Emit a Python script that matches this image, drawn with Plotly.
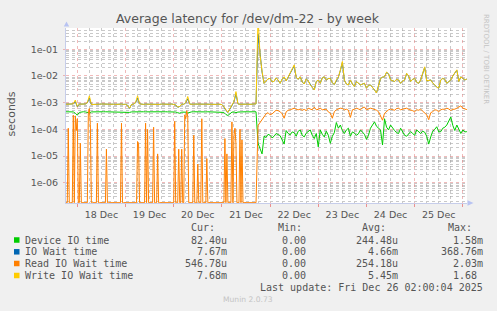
import numpy as np
import pandas as pd
import plotly.graph_objects as go

# ---------------- data (microseconds) ----------------
START = "2025-12-17 18:00"          # first hourly sample
# hourly samples i = 0..200 (Dec 17 18:00 .. Dec 26 02:00)
device_us = [
    455, 452, 448, 455, 450, 400, 340, 430, 452, 456,
    450, 430, 410, 450, 455, 458, 452, 455, 450, 456,
    455, 452, 458, 455, 450, 455, 452, 456, 455, 450,
    452, 448, 430, 450, 455, 450, 440, 452, 458, 455,
    452, 455, 450, 456, 455, 452, 460, 462, 458, 460,
    455, 452, 456, 455, 450, 445, 420, 400, 440, 452,
    440, 410, 440, 452, 455, 450, 456, 455, 452, 455,
    450, 455, 452, 456, 455, 450, 452, 455, 450, 430,
    360, 330, 380, 440, 450, 420, 445, 452, 455, 450,
    455, 452, 456, 455, 450, 455,
    30, 20, 12, 55, 50, 65, 60, 48, 55, 70,
    62, 58, 40, 28, 90, 70, 62, 80, 75, 55,
    85, 95, 60, 52, 72, 85, 95, 60, 45, 70,
    22, 95, 65, 52, 85, 60, 30, 55, 75, 180,
    110, 145, 90, 70, 95, 110, 55, 80, 72, 60,
    68, 95, 78, 65, 42, 60, 110, 150, 190, 130,
    115, 95, 26, 250, 120, 95, 145, 110, 90, 75,
    70, 110, 85, 60, 55, 65, 82, 70, 60, 95,
    80, 70, 85, 78, 55, 28, 52, 85, 100, 125,
    80, 82, 110, 120, 145, 200, 290, 140, 90, 145,
    100, 70, 95, 80, 82,
]
write_us = [
    870, 880, 860, 890, 900, 1250, 720, 880, 870, 860,
    890, 1000, 1800, 850, 870, 880, 860, 875, 890, 870,
    860, 880, 870, 890, 875, 860, 880, 870, 885, 860,
    870, 800, 620, 850, 880, 1000, 1800, 900, 870, 860,
    880, 870, 890, 860, 875, 880, 870, 860, 885, 870,
    880, 865, 870, 890, 860, 820, 680, 720, 880, 870,
    1000, 1700, 880, 860, 870, 885, 870, 880, 860, 875,
    880, 870, 860, 890, 870, 860, 880, 870, 850, 700,
    520, 430, 600, 850, 1100, 2600, 900, 870, 880, 860,
    870, 880, 865, 875, 880, 900,
    1680000, 60000, 15000, 5300, 6500, 7800, 8100, 6000, 6300, 8500,
    7000, 5300, 7500, 9300, 6500, 9000, 12600, 18000, 26000, 9000,
    7500, 9300, 6000, 5000, 7800, 6500, 4600, 3800, 3000, 6200,
    7000, 5300, 8500, 9300, 7000, 8000, 8100, 5500, 4800, 7100,
    9000, 16700, 35000, 7000, 5000, 4600, 7100, 5000, 4000, 6200,
    5500, 4600, 5000, 5300, 3500, 4500, 4600, 3500, 3000, 2300,
    5000, 8100, 9000, 9300, 14000, 12000, 7100, 6500, 6200, 7500,
    7100, 5300, 6500, 7100, 12600, 10000, 6200, 7500, 8100, 5800,
    5300, 7100, 14000, 22000, 6500, 6800, 7100, 5500, 4600, 3800,
    3500, 7100, 8100, 7500, 5300, 6000, 7100, 10000, 12600, 17000,
    6200, 9300, 8000, 7100, 7680,
]
iowait_us = [
    870, 880, 860, 890, 900, 1100, 700, 880, 870, 860,
    890, 980, 1500, 850, 870, 880, 860, 875, 890, 870,
    860, 880, 870, 890, 875, 860, 880, 870, 885, 860,
    870, 800, 610, 850, 880, 980, 1500, 900, 870, 860,
    880, 870, 890, 860, 875, 880, 870, 860, 885, 870,
    880, 865, 870, 890, 860, 820, 670, 720, 880, 870,
    980, 1400, 880, 860, 870, 885, 870, 880, 860, 875,
    880, 870, 860, 890, 870, 860, 880, 870, 850, 690,
    510, 430, 600, 850, 1050, 2200, 900, 870, 880, 860,
    870, 880, 865, 875, 880, 900,
    368760, 50000, 14000, 5300, 6400, 7800, 8100, 6000, 6300, 8400,
    7000, 5300, 7500, 9200, 6500, 9000, 12400, 16000, 24000, 9000,
    7500, 9300, 6000, 5000, 7800, 6500, 4600, 3700, 3000, 6200,
    7000, 5300, 8500, 9300, 7000, 8000, 8100, 5500, 4800, 7100,
    9000, 16000, 32000, 7000, 5000, 4600, 7100, 5000, 4000, 6200,
    5500, 4600, 5000, 5300, 3500, 4500, 4600, 3500, 3000, 2300,
    5000, 8100, 9000, 9300, 13500, 12000, 7100, 6500, 6200, 7500,
    7100, 5300, 6500, 7100, 12200, 10000, 6200, 7500, 8100, 5800,
    5300, 7100, 13500, 21000, 6500, 6800, 7100, 5500, 4600, 3800,
    3500, 7100, 8100, 7500, 5300, 6000, 7100, 10000, 12400, 16500,
    6200, 9300, 8000, 7100, 7670,
]
# Read IO wait: zero until Dec 21 ~16:30 except short bursts (half-hour slots)
read_burst_slot = [3, 8, 10, 11, 12, 15, 23, 24, 25, 32, 41, 56, 72, 73, 80, 82,
                   88, 92, 109, 113, 116, 119, 120, 121, 122, 128, 132, 136, 141,
                   159, 161, 166, 168, 169, 170, 174, 176]
read_burst_us = [110, 340, 320, 90, 250, 30, 500, 600, 150, 170, 18, 170, 35, 30,
                 170, 100, 120, 12, 200, 18, 18, 350, 250, 500, 300, 60, 5, 250,
                 8, 45, 12, 190, 60, 110, 30, 100, 40]
READ_ZERO_SLOTS = 191
# hourly from sample i = 96
read_late_us = [
    140, 180, 250, 300, 380, 420, 350, 380, 460, 520,
    500, 460, 380, 260, 450, 520, 540, 600, 620, 560,
    540, 570, 520, 560, 500, 620, 560, 540, 680, 540,
    560, 620, 540, 560, 570, 450, 400, 260, 460, 540,
    560, 620, 600, 540, 570, 520, 280, 540, 560, 620,
    580, 540, 650, 680, 540, 560, 620, 590, 570, 520,
    460, 300, 220, 400, 460, 540, 570, 560, 520, 600,
    620, 540, 560, 600, 620, 560, 540, 500, 460, 540,
    520, 570, 480, 400, 350, 230, 420, 460, 540, 520,
    460, 540, 570, 560, 620, 580, 510, 560, 570, 620,
    680, 760, 620, 580, 547,
]
READ_LATE_FIRST = 96

series_names = ["Device IO time", "IO Wait time", "Read IO Wait time", "Write IO Wait time"]
cur_txt = ["82.40u", "7.67m", "546.78u", "7.68m"]
min_txt = ["0.00", "0.00", "0.00", "0.00"]
avg_txt = ["244.48u", "4.66m", "254.18u", "5.45m"]
max_txt = ["1.58m", "368.76m", "2.03m", "1.68 "]
y_tick_exp = [-6, -5, -4, -3, -2, -1]
x_range = ["2025-12-17 18:22", "2025-12-26 02:04"]
title_txt = "Average latency for /dev/dm-22 - by week"
update_txt = "Last update: Fri Dec 26 02:00:04 2025"

# ---------------- build ----------------
colors = ["#00CC00", "#0066B3", "#FF8000", "#FFCC00"]
W, H = 497, 311
L, R, T, B = 66, 467, 28, 203
Y_LOG_MIN, Y_LOG_MAX = -6.761, -0.202
FLOOR = 10 ** (Y_LOG_MIN + 0.012)

hours = pd.date_range(START, periods=len(device_us), freq="h")
half = pd.date_range(START, periods=READ_ZERO_SLOTS, freq="30min")
read_left = np.zeros(READ_ZERO_SLOTS)
read_left[read_burst_slot] = read_burst_us
read_x = list(half) + list(hours[READ_LATE_FIRST:])
read_y = np.concatenate([read_left, np.array(read_late_us, float)]) * 1e-6
read_y = np.maximum(read_y, FLOOR)

sec = lambda a: np.array(a, float) * 1e-6

fig = go.Figure()
traces = [(hours, sec(device_us)), (hours, sec(iowait_us)), (read_x, read_y), (hours, sec(write_us))]
for (xx, yy), c, n in zip(traces, colors, series_names):
    fig.add_trace(go.Scatter(x=xx, y=yy, mode="lines", name=n,
                             line=dict(color=c, width=1), hoverinfo="skip"))


def px(x):
    return (x - L) / (R - L)


def py(y):
    return (B - y) / (B - T)


minor_vals = [k * 10.0 ** d for d in range(-8, 1) for k in range(2, 10)
              if Y_LOG_MIN < np.log10(k * 10.0 ** d) < Y_LOG_MAX]

MAJ = "rgba(232,140,140,0.6)"
MIN = "rgba(165,165,165,0.6)"
AX = "#c6cdea"
TXT = "#555555"

fig.update_layout(
    width=W, height=H,
    margin=dict(l=L, r=W - R, t=T, b=H - B, pad=0),
    paper_bgcolor="#F0F0F0", plot_bgcolor="#FFFFFF",
    showlegend=False,
    font=dict(family="DejaVu Sans", color=TXT),
    xaxis=dict(
        type="date", range=x_range,
        tick0="2025-12-18", dtick=86400000, ticklabelmode="period",
        tickformat="%d %b",
        showgrid=True, gridcolor=MAJ, griddash="dot", gridwidth=1,
        ticks="outside", ticklen=3, tickcolor="rgba(232,120,120,0.8)",
        minor=dict(dtick=21600000, tick0="2025-12-18", showgrid=True,
                   gridcolor=MIN, griddash="dot", gridwidth=1, ticks=""),
        showline=True, linecolor=AX, linewidth=1, zeroline=False,
        tickfont=dict(family="DejaVu Sans", size=9.5, color=TXT),
        fixedrange=True,
    ),
    yaxis=dict(
        type="log", range=[Y_LOG_MIN, Y_LOG_MAX],
        tickmode="array", tickvals=[10.0 ** e for e in y_tick_exp],
        ticktext=["1e%03d" % e for e in y_tick_exp],
        showgrid=True, gridcolor=MAJ, griddash="dot", gridwidth=1,
        ticks="outside", ticklen=2, tickcolor=MAJ, ticklabelstandoff=3,
        minor=dict(tickmode="array", tickvals=minor_vals, showgrid=True,
                   gridcolor=MIN, griddash="dot", gridwidth=1, ticks=""),
        showline=True, linecolor=AX, linewidth=1, zeroline=False,
        tickfont=dict(family="DejaVu Sans", size=9.5, color=TXT),
        fixedrange=True,
    ),
)

shapes = []
# axis arrows
shapes.append(dict(type="path", xref="paper", yref="paper",
                   path=f"M {px(63.8)} {py(26.5)} L {px(69.2)} {py(26.5)} L {px(66.5)} {py(21.5)} Z",
                   fillcolor="#b8c3f2", line=dict(width=0)))
shapes.append(dict(type="path", xref="paper", yref="paper",
                   path=f"M {px(467.5)} {py(200.3)} L {px(467.5)} {py(205.7)} L {px(473.5)} {py(203)} Z",
                   fillcolor="#b8c3f2", line=dict(width=0)))
# legend squares
row_y = [240.0, 251.8, 263.5, 275.5]
for c, yy in zip(colors, row_y):
    shapes.append(dict(type="rect", xref="paper", yref="paper",
                       x0=px(14), x1=px(19.5), y0=py(yy + 2.75), y1=py(yy - 2.75),
                       fillcolor=c, line=dict(width=0)))
fig.update_layout(shapes=shapes)

MONO = "DejaVu Sans Mono"
ann = []


def text(x, y, s, anchor="left", size=10, color=TXT, family=MONO, angle=0):
    ann.append(dict(xref="paper", yref="paper", x=px(x), y=py(y), text=s.replace(" ", "\u00a0"),
                    xanchor=anchor, yanchor="middle", showarrow=False, textangle=angle,
                    borderpad=0, borderwidth=0,
                    font=dict(family=family, size=size, color=color)))


text(247.5, 18.8, title_txt, "center", 12.5, TXT, "DejaVu Sans")
text(11.2, 114.2, "seconds", "center", 11, TXT, "DejaVu Sans", -90)
text(486.5, 58.5, "RRDTOOL / TOBI OETIKER", "center", 7, "#c4c4c4", "DejaVu Sans", 90)
text(247.8, 299.3, "Munin 2.0.73", "center", 7.6, "#c4c4c4", "DejaVu Sans")

hdr_y = 227.3
text(214.9, hdr_y, "Cur:", "right")
text(301.5, hdr_y, "Min:", "right")
text(386.2, hdr_y, "Avg:", "right")
text(472.2, hdr_y, "Max:", "right")
for k in range(4):
    yy = row_y[k]
    text(25.0, yy, series_names[k], "left")
    text(226.8, yy, cur_txt[k], "right")
    text(306.0, yy, min_txt[k], "right")
    text(397.5, yy, avg_txt[k], "right")
    text(483.4, yy, max_txt[k], "right")
text(483.4, 287.7, update_txt, "right")
fig.update_layout(annotations=ann)

fig.write_html("out.html", config={"displayModeBar": False})
